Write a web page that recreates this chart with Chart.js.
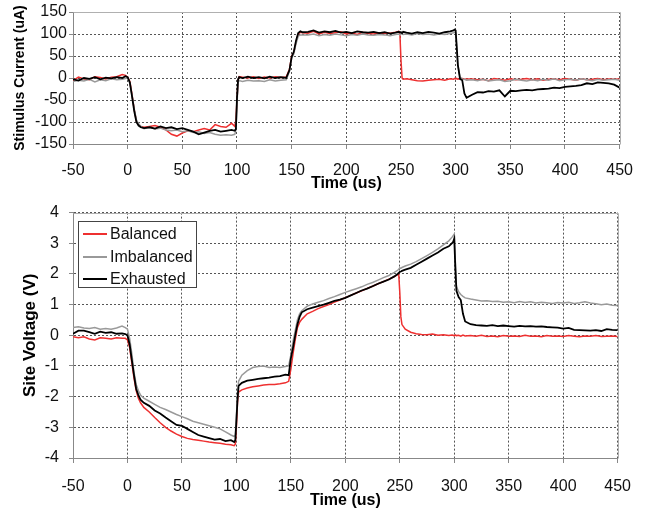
<!DOCTYPE html>
<html>
<head>
<meta charset="utf-8">
<script src="https://cdn.jsdelivr.net/npm/chart.js@4/dist/chart.umd.min.js"></script>
<style>
  html, body { margin: 0; padding: 0; background: #fff; }
  body { width: 645px; height: 510px; position: relative; overflow: hidden; font-family: "Liberation Sans", Arial, sans-serif; }
  #c1 { position: absolute; left: 0; top: 0; }
  #c2 { position: absolute; left: 0; top: 193px; }
  #legend { position: absolute; left: 78px; top: 221px; width: 119px; height: 67px; border: 1px solid #444; background: #fff; box-sizing: border-box; font-size: 16px; color: #111; }
  .row { position: absolute; left: 0; height: 20px; line-height: 20px; white-space: nowrap; }
  .sw { position: absolute; left: 4px; top: 9px; width: 24px; height: 0; }
  .lb { position: absolute; left: 31px; top: 0; }
</style>
</head>
<body>
<canvas id="c1" width="645" height="193"></canvas>
<canvas id="c2" width="645" height="317"></canvas>
<div id="legend">
  <div class="row" style="top:2px"><div class="sw" style="border-top:2px solid #ee3030"></div><span class="lb">Balanced</span></div>
  <div class="row" style="top:25px"><div class="sw" style="border-top:2px solid #999"></div><span class="lb">Imbalanced</span></div>
  <div class="row" style="top:47px"><div class="sw" style="border-top:2px solid #000"></div><span class="lb">Exhausted</span></div>
</div>
<script>
// ---- time axis (us) ----
const timeUs = [
  -50,-45,-40,-35,-30,-25,-20,-15,-10,-5,-2,
  0,2,4,6,8,10,12,15,
  20,25,30,35,40,45,50,55,60,65,70,75,80,85,90,95,98,99,
  100,101,102,105,110,115,120,125,130,135,140,145,148,
  150,152,154,156,158,160,
  165,170,175,180,185,190,195,200,205,210,215,220,225,230,235,240,245,248,249,
  250,251,252,255,260,265,270,275,280,285,290,295,298,299,
  300,301,302,304,306,308,310,
  315,320,325,330,335,340,345,350,355,360,365,370,375,380,385,390,395,400,405,410,415,420,425,430,435,440,445,450
];

// ---- stimulus current (uA) ----
const currentBalanced = [
  -6,2,-2,-4,3,1,-2,2,3,8,6,
  2,-8,-38,-72,-98,-106,-110,-112,
  -110,-108,-112,-118,-128,-132,-125,-120,-122,-118,-115,-118,-106,-110,-112,-103,-110,-95,
  -50,-5,3,2,0,3,-1,2,0,3,1,2,20,
  50,58,82,100,104,103,
  102,106,100,104,101,103,105,100,102,99,104,101,100,103,101,102,104,106,100,
  40,0,-3,-2,-4,-6,-7,-5,-4,-3,-5,-2,-3,-1,
  -2,-1,-3,-2,-1,-3,-2,
  -2,-4,-3,-6,-1,-3,-5,-2,-4,-3,-1,-4,-2,-5,-3,-2,-4,-1,-3,-5,-2,-4,-3,-1,-4,-2,-3,-2
];
const currentImbalanced = [
  -8,-5,-7,-3,-9,-4,-6,-2,-4,-3,-1,
  0,-12,-40,-70,-95,-104,-110,-115,
  -112,-116,-114,-118,-120,-118,-122,-120,-124,-122,-126,-124,-128,-130,-129,-130,-128,-118,
  -60,-10,-6,-8,-5,-7,-6,-8,-4,-7,-5,-4,15,
  45,55,78,95,98,98,
  98,100,96,99,97,100,98,96,99,97,100,98,97,99,98,96,99,100,98,
  101,100,99,100,98,101,99,100,98,100,99,101,103,104,
  103,70,30,2,-2,-3,-5,
  -4,-6,-3,-7,-5,-4,-8,-6,-3,-5,-7,-4,-6,-3,-5,-2,-6,-4,-3,-5,-2,-4,-6,-3,-5,-4,-3,-5
];
const currentExhausted = [
  -3,-6,0,-2,2,-3,1,-1,2,0,4,
  2,-10,-42,-75,-100,-108,-112,-114,
  -112,-115,-110,-114,-112,-116,-114,-118,-122,-128,-124,-120,-118,-122,-120,-118,-120,-116,
  -45,-3,2,0,3,0,2,-1,3,0,2,0,18,
  48,60,85,102,106,104,
  105,108,103,106,104,107,103,105,102,106,104,103,105,102,104,101,103,105,104,
  104,102,105,103,101,104,102,105,103,101,104,106,108,110,
  108,70,30,-2,-5,-35,-45,
  -38,-32,-33,-30,-31,-28,-42,-29,-30,-28,-27,-28,-26,-25,-24,-22,-23,-20,-19,-18,-16,-12,-14,-10,-11,-12,-15,-22
];

// ---- site voltage (V) ----
const voltageBalanced = [
  -0.05,-0.08,-0.05,-0.12,-0.15,-0.08,-0.1,-0.12,-0.08,-0.1,-0.1,
  -0.15,-0.4,-0.9,-1.4,-1.8,-2.05,-2.2,-2.35,
  -2.5,-2.68,-2.85,-3.0,-3.12,-3.22,-3.3,-3.36,-3.4,-3.42,-3.45,-3.48,-3.5,-3.52,-3.55,-3.57,-3.6,-3.55,
  -3.0,-2.2,-1.85,-1.78,-1.72,-1.68,-1.65,-1.62,-1.6,-1.6,-1.58,-1.55,-1.5,
  -1.1,-0.6,-0.15,0.25,0.42,0.52,
  0.7,0.78,0.87,0.94,1.0,1.08,1.15,1.23,1.3,1.38,1.45,1.53,1.6,1.68,1.75,1.83,1.91,1.98,2.0,
  1.4,0.6,0.35,0.2,0.1,0.05,0.03,0.02,0.04,0.0,0.02,-0.01,0.01,0.0,
  -0.02,0.01,-0.01,0.0,-0.03,0.01,-0.02,
  -0.01,-0.03,0.0,-0.04,-0.02,-0.05,-0.01,-0.03,-0.02,-0.04,0.0,-0.03,-0.02,-0.05,-0.01,-0.03,-0.02,-0.04,-0.01,-0.03,-0.05,-0.02,-0.03,-0.01,-0.04,-0.03,-0.02,-0.04
];
const voltageImbalanced = [
  0.25,0.28,0.24,0.22,0.25,0.2,0.22,0.2,0.24,0.3,0.25,
  0.2,-0.1,-0.6,-1.2,-1.6,-1.8,-1.95,-2.05,
  -2.15,-2.25,-2.35,-2.42,-2.5,-2.58,-2.65,-2.72,-2.8,-2.85,-2.9,-2.95,-3.0,-3.05,-3.15,-3.25,-3.3,-3.25,
  -2.6,-2.0,-1.5,-1.3,-1.15,-1.05,-1.02,-1.0,-1.05,-1.03,-1.05,-1.02,-1.0,
  -0.64,-0.2,0.15,0.5,0.7,0.8,
  0.95,1.02,1.08,1.13,1.2,1.26,1.33,1.4,1.46,1.52,1.58,1.66,1.72,1.8,1.88,1.95,2.05,2.12,2.15,
  2.2,2.18,2.21,2.26,2.32,2.4,2.5,2.6,2.7,2.82,2.95,3.08,3.2,3.25,
  3.3,2.4,1.6,1.42,1.33,1.27,1.22,
  1.18,1.15,1.12,1.13,1.1,1.11,1.08,1.09,1.06,1.1,1.07,1.09,1.05,1.08,1.06,1.04,1.07,1.05,1.08,1.04,1.06,1.09,1.05,1.03,1.0,1.02,0.98,0.97
];
const voltageExhausted = [
  0.05,0.15,0.15,0.1,0.05,0.12,0.08,0.1,0.05,0.06,0.04,
  0.0,-0.3,-0.8,-1.3,-1.75,-1.95,-2.1,-2.2,
  -2.3,-2.45,-2.55,-2.68,-2.8,-2.92,-2.95,-3.05,-3.15,-3.25,-3.3,-3.35,-3.4,-3.38,-3.45,-3.42,-3.48,-3.42,
  -2.8,-2.1,-1.65,-1.55,-1.48,-1.45,-1.42,-1.4,-1.38,-1.35,-1.33,-1.28,-1.3,
  -0.75,-0.4,0.0,0.35,0.6,0.75,
  0.85,0.9,0.95,1.0,1.06,1.12,1.16,1.22,1.3,1.38,1.46,1.52,1.6,1.68,1.75,1.82,1.92,2.0,2.03,
  2.07,2.08,2.1,2.14,2.2,2.3,2.4,2.5,2.6,2.7,2.82,2.9,3.0,3.05,
  3.15,2.2,1.45,1.25,1.15,0.7,0.45,
  0.36,0.33,0.32,0.31,0.33,0.3,0.32,0.3,0.28,0.31,0.29,0.3,0.28,0.29,0.27,0.26,0.25,0.22,0.24,0.18,0.17,0.16,0.15,0.17,0.14,0.2,0.18,0.17
];

const seriesNames = ["Balanced", "Imbalanced", "Exhausted"];
const seriesColors = ["#ee3030", "#9a9a9a", "#000000"];
const seriesWidths = [1.5, 1.5, 1.8];

Chart.defaults.font.family = '"Liberation Sans", Arial, sans-serif';
Chart.defaults.color = '#000';

function pts(vals) { return timeUs.map((t, i) => ({ x: t, y: vals[i] })); }

function makeDatasets(arrs) {
  return arrs.map((a, i) => ({
    label: seriesNames[i],
    data: pts(a),
    borderColor: seriesColors[i],
    borderWidth: seriesWidths[i],
    pointRadius: 0,
    tension: 0,
    fill: false,
    order: 3 - i
  }));
}

const frame = {
  id: 'frame',
  beforeDatasetsDraw(chart) {
    const a = chart.chartArea, ctx = chart.ctx;
    ctx.save();
    ctx.strokeStyle = '#b0b0b0';
    ctx.lineWidth = 1;
    ctx.beginPath();
    ctx.moveTo(Math.round(a.left) + 0.5, Math.round(a.top) + 0.5);
    ctx.lineTo(Math.round(a.right) + 0.5, Math.round(a.top) + 0.5);
    ctx.lineTo(Math.round(a.right) + 0.5, Math.round(a.bottom) + 0.5);
    ctx.stroke();
    ctx.restore();
  }
};

function buildChart(canvas, cfg) {
  return new Chart(canvas, {
    type: 'line',
    data: { datasets: makeDatasets(cfg.series) },
    options: {
      responsive: false,
      animation: false,
      devicePixelRatio: 1,
      layout: { autoPadding: false, padding: { top: cfg.padTop, right: cfg.padRight, left: 0, bottom: 0 } },
      plugins: { legend: { display: false }, tooltip: { enabled: false } },
      scales: {
        x: {
          type: 'linear', min: -50, max: 450,
          ticks: { stepSize: 50, padding: cfg.xTickPad, font: { size: 16 }, color: '#111', maxRotation: 0, autoSkip: false },
          grid: { color: '#555', lineWidth: 1, tickColor: '#888', tickLength: 5, drawTicks: true },
          border: { color: '#888', width: 1, dash: [2, 2] },
          title: { display: true, text: 'Time (us)', font: { size: 16, weight: 'bold' }, color: '#000', padding: { top: 0, bottom: 0 } },
          afterFit(s) { s.height = cfg.xHeight; }
        },
        y: {
          type: 'linear', min: cfg.yMin, max: cfg.yMax,
          ticks: { stepSize: cfg.yStep, padding: cfg.yTickPad, font: { size: 16 }, color: '#111', autoSkip: false },
          grid: { color: '#555', lineWidth: 1, tickColor: '#888', tickLength: 4, drawTicks: true },
          border: { color: '#888', width: 1, dash: [2, 2] },
          title: { display: true, text: cfg.yTitle, font: { size: cfg.yTitleSize, weight: 'bold' }, color: '#000', padding: { top: cfg.yTitlePad, bottom: 0 } },
          afterFit(s) { s.width = 73; }
        }
      }
    },
    plugins: [frame]
  });
}

buildChart(document.getElementById('c1'), {
  series: [currentBalanced, currentImbalanced, currentExhausted],
  padTop: 12, padRight: 25, xHeight: 49, xTickPad: 12,
  yMin: -150, yMax: 150, yStep: 50, yTickPad: 2,
  yTitle: 'Stimulus Current (uA)', yTitleSize: 14, yTitlePad: 12
});

buildChart(document.getElementById('c2'), {
  series: [voltageBalanced, voltageImbalanced, voltageExhausted],
  padTop: 15, padRight: 23, xHeight: 52, xTickPad: 14,
  yMin: -4, yMax: 4, yStep: 1, yTickPad: 10,
  yTitle: 'Site Voltage (V)', yTitleSize: 17, yTitlePad: 20
});
</script>
</body>
</html>
